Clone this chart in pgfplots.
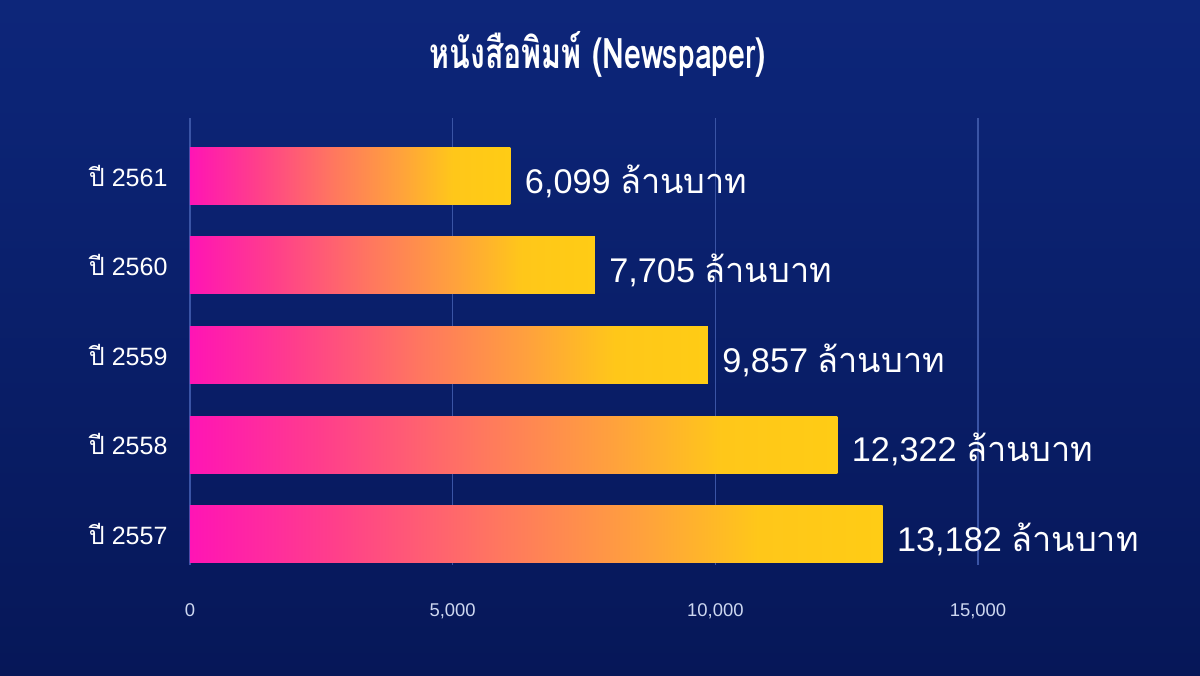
\documentclass[border=0pt]{standalone}
\usepackage{pgfplots}
\pgfplotsset{compat=1.18}
\usepackage{fontspec}
\setmainfont{Liberation Sans}
\newfontfamily\thaifont[Script=Thai]{Loma}
\newfontfamily\titlefont[Script=Thai,FakeStretch=0.72]{Loma}

\definecolor{bgtop}{RGB}{13,38,122}
\definecolor{bgbot}{RGB}{6,23,88}
\definecolor{gridc}{RGB}{58,84,165}
\definecolor{ticktext}{RGB}{205,215,240}

\pgfdeclarehorizontalshading{barshade}{100bp}{%
  rgb(0bp)=(1,0.08,0.71);
  rgb(25bp)=(1,0.08,0.71);
  rgb(35bp)=(1,0.24,0.55);
  rgb(47.5bp)=(1,0.47,0.37);
  rgb(57.5bp)=(1,0.63,0.24);
  rgb(66bp)=(1,0.78,0.10);
  rgb(75bp)=(1,0.80,0.08);
  rgb(100bp)=(1,0.80,0.08)}

\begin{document}
\begin{tikzpicture}
\shade[top color=bgtop, bottom color=bgbot] (0,0) rectangle (16,9);

\node[text=white, font=\titlefont\bfseries\fontsize{16}{19}\selectfont]
  at (7.97,8.27) {หนังสือพิมพ์ (Newspaper)};

\begin{axis}[
  at={(2.533cm,1.467cm)}, anchor=south west,
  scale only axis,
  width=11.908cm, height=5.96cm,
  xmin=0, xmax=17000,
  ymin=-0.346, ymax=4.648,
  xtick={0,5000,10000,15000},
  scaled x ticks=false,
  ytick={0,1,2,3,4},
  yticklabels={{\thaifont ปี} 2557,{\thaifont ปี} 2558,{\thaifont ปี} 2559,{\thaifont ปี} 2560,{\thaifont ปี} 2561},
  /pgf/number format/assume math mode=true,
  /pgf/number format/1000 sep={,},
  xticklabel style={text=ticktext, font=\fontsize{7}{8}\selectfont, yshift=-11pt},
  yticklabel style={text=white, font=\fontsize{9.5}{11}\selectfont, xshift=-5pt},
  axis line style={draw=none},
  major tick length=0pt,
  xmajorgrids,
  grid style={gridc, line width=0.5pt},
  no markers,
  point meta=x,
  nodes near coords={\pgfmathprintnumber{\pgfplotspointmeta}\ {\thaifont ล้านบาท}},
  nodes near coords style={text=white, font=\fontsize{13}{15}\selectfont, anchor=west, xshift=2pt, yshift=-2pt},
  every axis plot/.append style={xbar, bar width=0.76cm, bar shift=0pt, draw=none, shading=barshade, shade},
]
\addplot coordinates {(13182,0)};
\addplot coordinates {(12322,1)};
\addplot coordinates {(9857,2)};
\addplot coordinates {(7705,3)};
\addplot coordinates {(6099,4)};
\end{axis}
\end{tikzpicture}
\end{document}
